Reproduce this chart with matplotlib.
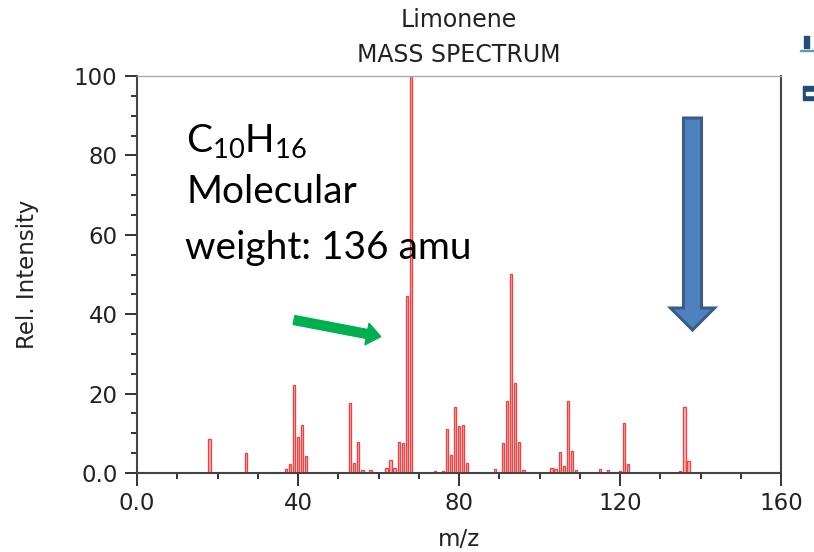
import matplotlib
matplotlib.use("Agg")
import matplotlib.pyplot as plt
from matplotlib.patches import FancyArrow, Rectangle
from matplotlib.transforms import IdentityTransform
from matplotlib.ticker import FixedLocator, MultipleLocator

# m/z values and relative intensities
mz = [18, 27, 37, 38, 39, 40, 41, 42, 53, 54, 55, 56, 58, 62, 63, 64, 65, 66,
      67, 68, 74, 76, 77, 78, 79, 80, 81, 82, 89, 90, 91, 92, 93, 94, 95, 96,
      103, 104, 105, 106, 107, 108, 109, 115, 117, 120, 121, 122, 135, 136, 137]
intensity = [8.5, 5.1, 1.0, 2.2, 22.2, 9.0, 12.1, 4.4, 17.7, 2.4, 7.9, 0.7, 0.7,
             1.2, 3.3, 1.2, 7.7, 7.5, 44.6, 100, 0.6, 0.5, 11.2, 4.5, 16.5, 11.9,
             12.1, 2.4, 1.0, 0.3, 7.5, 18.2, 50.1, 22.6, 7.9, 0.8, 1.3, 0.9, 5.2,
             1.8, 18.1, 5.5, 0.7, 1.0, 0.7, 0.6, 12.7, 2.3, 0.6, 16.5, 3.0]

x_ticks = [0, 40, 80, 120, 160]
x_tick_labels = ["0.0", "40", "80", "120", "160"]
y_ticks = [0, 20, 40, 60, 80, 100]
y_tick_labels = ["0.0", "20", "40", "60", "80", "100"]

W, H = 814, 552
fig = plt.figure(figsize=(W / 100, H / 100), dpi=100)
ax = fig.add_axes([137 / W, 1 - 473 / H, 644 / W, 397 / H])

ax.bar(mz, intensity, width=0.55, color="#ffb3b3", edgecolor="#ff3b3b", linewidth=0.9)

ax.set_xlim(0, 160)
ax.set_ylim(0, 100)
ax.xaxis.set_major_locator(FixedLocator(x_ticks))
ax.set_xticklabels(x_tick_labels)
ax.yaxis.set_major_locator(FixedLocator(y_ticks))
ax.set_yticklabels(y_tick_labels)
ax.xaxis.set_minor_locator(MultipleLocator(10))
ax.yaxis.set_minor_locator(MultipleLocator(5))
ax.tick_params(which="major", direction="out", length=9, width=1.4, color="#333333",
               labelsize=16.5, labelcolor="#222222", pad=5)
ax.tick_params(which="minor", direction="out", length=4.5, width=1.4, color="#333333")
ax.tick_params(top=False, right=False, which="both")

for side in ["left", "bottom", "right"]:
    ax.spines[side].set_color("#444444")
    ax.spines[side].set_linewidth(1.5)
ax.spines["top"].set_color("#aaaaaa")
ax.spines["top"].set_linewidth(1.0)

ax.set_xlabel("m/z", fontsize=16.5, color="#222222", labelpad=9)
ax.set_ylabel("Rel. Intensity", fontsize=16.5, color="#222222", labelpad=25)

fig.text(459 / W, 1 - 20 / H, "Limonene", ha="center", va="center", fontsize=17, color="#222222")
fig.text(459 / W, 1 - 55 / H, "MASS SPECTRUM", ha="center", va="center", fontsize=17, color="#222222")

# slide overlay text
plt.rcParams["mathtext.default"] = "regular"
fig.text(186 / W, 1 - 152 / H, "C$_{10}$H$_{16}$", ha="left", va="baseline",
         fontsize=28, family="Lato", color="black")
fig.text(186 / W, 1 - 203 / H, "Molecular", ha="left", va="baseline",
         fontsize=28, family="Lato", color="black")
fig.text(185 / W, 1 - 259 / H, "weight: 136 amu", ha="left", va="baseline",
         fontsize=28, family="Lato", color="black")

# green arrow
fig.add_artist(FancyArrow(294, H - 320, 73, -14, width=9, head_width=22, head_length=14,
                          length_includes_head=False, color="#00b050", transform=IdentityTransform()))
# blue block arrow
fig.add_artist(FancyArrow(692.5, H - 118, 0, -190, width=18, head_width=44, head_length=22,
                          length_includes_head=False, facecolor="#4f81bd", edgecolor="#385d8a",
                          linewidth=2.2, transform=IdentityTransform()))

# clipped slide fragments at the right edge
fig.add_artist(Rectangle((804, H - 48), 5, 12, color="#1f4e79", transform=IdentityTransform()))
fig.add_artist(Rectangle((800, H - 51), 14, 1.5, color="#5b9bad", transform=IdentityTransform()))
fig.add_artist(Rectangle((803, H - 100), 11, 14, color="#1f4e79", transform=IdentityTransform()))
fig.add_artist(Rectangle((806, H - 95), 8, 3, color="white", transform=IdentityTransform()))

fig.savefig("out.png", dpi=100)
